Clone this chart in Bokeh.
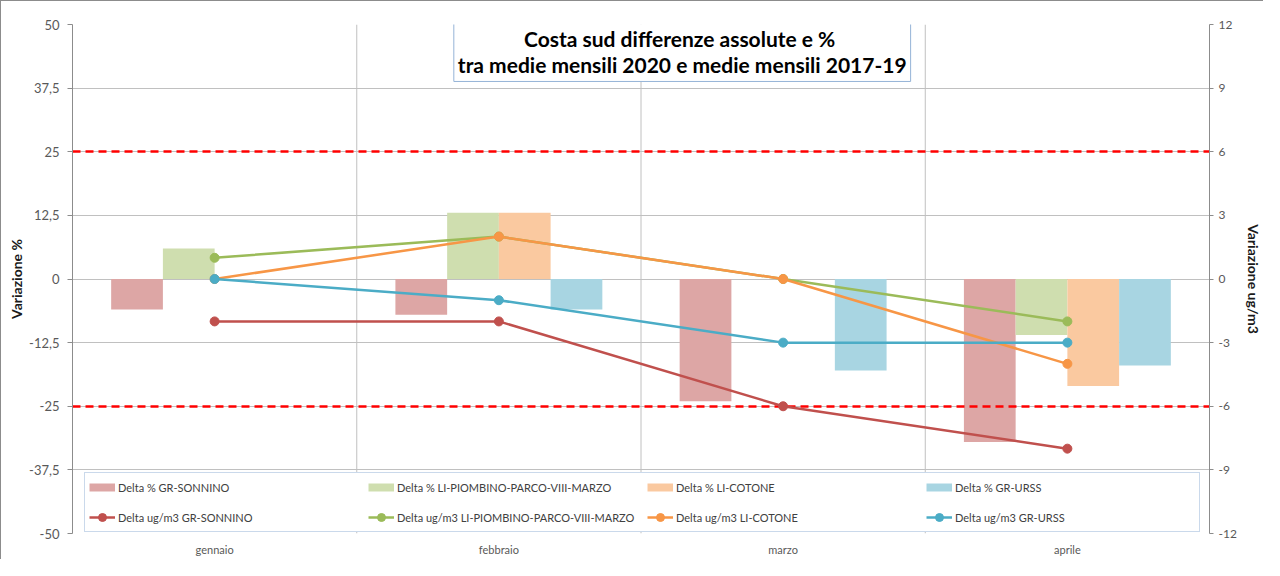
from bokeh.plotting import figure
from bokeh.models import (Range1d, LinearAxis, FixedTicker, Span, Label, Legend,
                          LegendItem, ColumnDataSource, CustomJSTickFormatter)
from bokeh.transform import dodge
from bokeh.embed import file_html
from bokeh.resources import INLINE

# ---------------- data ----------------
months = ["gennaio", "febbraio", "marzo", "aprile"]

pct_sonnino = [-6, -7, -24, -32]
pct_piombino = [6, 13, 0, -11]
pct_cotone = [0, 13, 0, -21]
pct_urss = [0, -6, -18, -17]

ug_sonnino = [-2, -2, -6, -8]
ug_piombino = [1, 2, 0, -2]
ug_cotone = [0, 2, 0, -4]
ug_urss = [0, -1, -3, -3]

thresholds = [25, -25]
pct_ticks = [-50, -37.5, -25, -12.5, 0, 12.5, 25, 37.5, 50]
ug_ticks = [-12, -9, -6, -3, 0, 3, 6, 9, 12]

stations = ["GR-SONNINO", "LI-PIOMBINO-PARCO-VIII-MARZO", "LI-COTONE", "GR-URSS"]
title_text = "Costa  sud differenze assolute e %\ntra medie mensili 2020 e medie mensili 2017-19"

# ---------------- style ----------------
FONT = "Lato"
bar_colors = ["#DDA6A5", "#CFDEAF", "#FAC9A0", "#A8D5E2"]
line_colors = ["#C0504D", "#9BBB59", "#F79646", "#4BACC6"]
grid_color = "#C0C0C0"
axis_color = "#8C8C8C"

src = ColumnDataSource(dict(
    month=months,
    p0=pct_sonnino, p1=pct_piombino, p2=pct_cotone, p3=pct_urss,
    u0=ug_sonnino, u1=ug_piombino, u2=ug_cotone, u3=ug_urss,
))

p = figure(x_range=months, y_range=Range1d(pct_ticks[0], pct_ticks[-1]),
           width=1263, height=559, output_backend="svg", toolbar_location=None,
           min_border_left=71, min_border_right=50, min_border_top=23,
           min_border_bottom=27)
p.styles = {"border-top": "1px solid #8C8C8C", "border-left": "1px solid #8C8C8C"}
p.outline_line_color = None
p.background_fill_color = "white"
p.border_fill_color = "white"
p.extra_y_ranges = {"ug": Range1d(ug_ticks[0], ug_ticks[-1]),
                    "proxy": Range1d(1e6, 1e6 + 1)}

# grids
p.xgrid.grid_line_color = None
p.ygrid.ticker = FixedTicker(ticks=pct_ticks)
p.ygrid.grid_line_color = grid_color
p.ygrid.grid_line_width = 1
for i in range(1, len(months)):
    p.add_layout(Span(location=i, dimension="height", line_color=grid_color,
                      line_width=1, level="underlay"))

# bars
bw = 0.182
offsets = [-1.5 * bw, -0.5 * bw, 0.5 * bw, 1.5 * bw]
for k in range(4):
    p.vbar(x=dodge("month", offsets[k], range=p.x_range), top="p%d" % k, bottom=0,
           width=bw, source=src, fill_color=bar_colors[k], line_color=None)

# threshold lines
p.hspan(y=thresholds, line_color="#FF0000", line_width=2.5, line_dash="8 5")

# lines
line_items = []
for k in range(4):
    lr = p.line(x="month", y="u%d" % k, source=src, y_range_name="ug",
                line_color=line_colors[k], line_width=2.5)
    sr = p.scatter(x="month", y="u%d" % k, source=src, y_range_name="ug",
                   size=9, fill_color=line_colors[k], line_color=line_colors[k])
    line_items.append(LegendItem(label="Delta ug/m3 " + stations[k], renderers=[lr, sr]))

# legend swatches for the bars (drawn off-screen, used only by the legend)
bar_items = []
for k in range(4):
    pr = p.line(x="month", y="p%d" % k, source=src, y_range_name="proxy",
                line_color=bar_colors[k], line_width=8)
    bar_items.append(LegendItem(label="Delta % " + stations[k], renderers=[pr]))

legend = Legend(items=bar_items + line_items, location=(12, 1),
                orientation="horizontal", ncols=4,
                glyph_width=26, glyph_height=20, label_height=20,
                label_width=240, label_standoff=3, spacing=10, padding=4,
                border_line_color="#95B3D7", border_line_width=1,
                background_fill_color="white", background_fill_alpha=1,
                label_text_font=FONT, label_text_font_size="11px",
                label_text_color="#404040", click_policy="none")
p.add_layout(legend)

# axes
fmt = CustomJSTickFormatter(code="return tick.toString().replace('.', ',');")
ya = p.yaxis[0]
ya.ticker = FixedTicker(ticks=pct_ticks)
ya.formatter = fmt
ya.axis_label = "Variazione %"
ya.axis_label_text_font = FONT
ya.axis_label_text_font_size = "14px"
ya.axis_label_text_font_style = "bold"
ya.axis_label_text_color = "#1A1A1A"
ya.axis_label_standoff = 1
ya.major_label_text_font = FONT
ya.major_label_text_font_size = "13px"
ya.major_label_text_color = "#595959"
ya.major_label_standoff = 8
ya.axis_line_color = axis_color
ya.major_tick_line_color = axis_color
ya.major_tick_out = 5
ya.major_tick_in = 0
ya.minor_tick_line_color = None

ra = LinearAxis(y_range_name="ug", ticker=FixedTicker(ticks=ug_ticks), formatter=fmt)
ra.axis_label = "Variazione ug/m3"
ra.axis_label_text_font = FONT
ra.axis_label_text_font_size = "14px"
ra.axis_label_text_font_style = "bold"
ra.axis_label_text_color = "#1A1A1A"
ra.axis_label_standoff = 5
ra.major_label_text_font = FONT
ra.major_label_text_font_size = "12px"
ra.major_label_text_color = "#595959"
ra.major_label_standoff = 5
ra.axis_line_color = axis_color
ra.major_tick_line_color = axis_color
ra.major_tick_out = 4
ra.major_tick_in = 0
ra.minor_tick_line_color = None
p.add_layout(ra, "right")

xa = p.xaxis[0]
xa.major_label_text_font = FONT
xa.major_label_text_font_size = "11px"
xa.major_label_text_color = "#595959"
xa.major_label_standoff = 9
xa.axis_line_color = None
xa.major_tick_line_color = None
xa.major_tick_out = 0
xa.major_tick_in = 0
xa.minor_tick_line_color = None

# title box with shadow
common = dict(x=2.145, y=50.4, text=title_text, text_align="center",
              text_baseline="top", text_font=FONT, text_font_size="21px",
              text_font_style="bold", text_line_height=1.04, padding=4)
shadow = Label(x_offset=2, y_offset=-2, text_alpha=0,
               background_fill_color="#7F7F7F", background_fill_alpha=0.5,
               border_line_color=None, **common)
title = Label(text_color="#000000", background_fill_color="white",
              background_fill_alpha=1, border_line_color="#95B3D7",
              border_line_width=1, **common)
p.add_layout(shadow)
p.add_layout(title)

open("out.html", "w").write(file_html(p, INLINE))
